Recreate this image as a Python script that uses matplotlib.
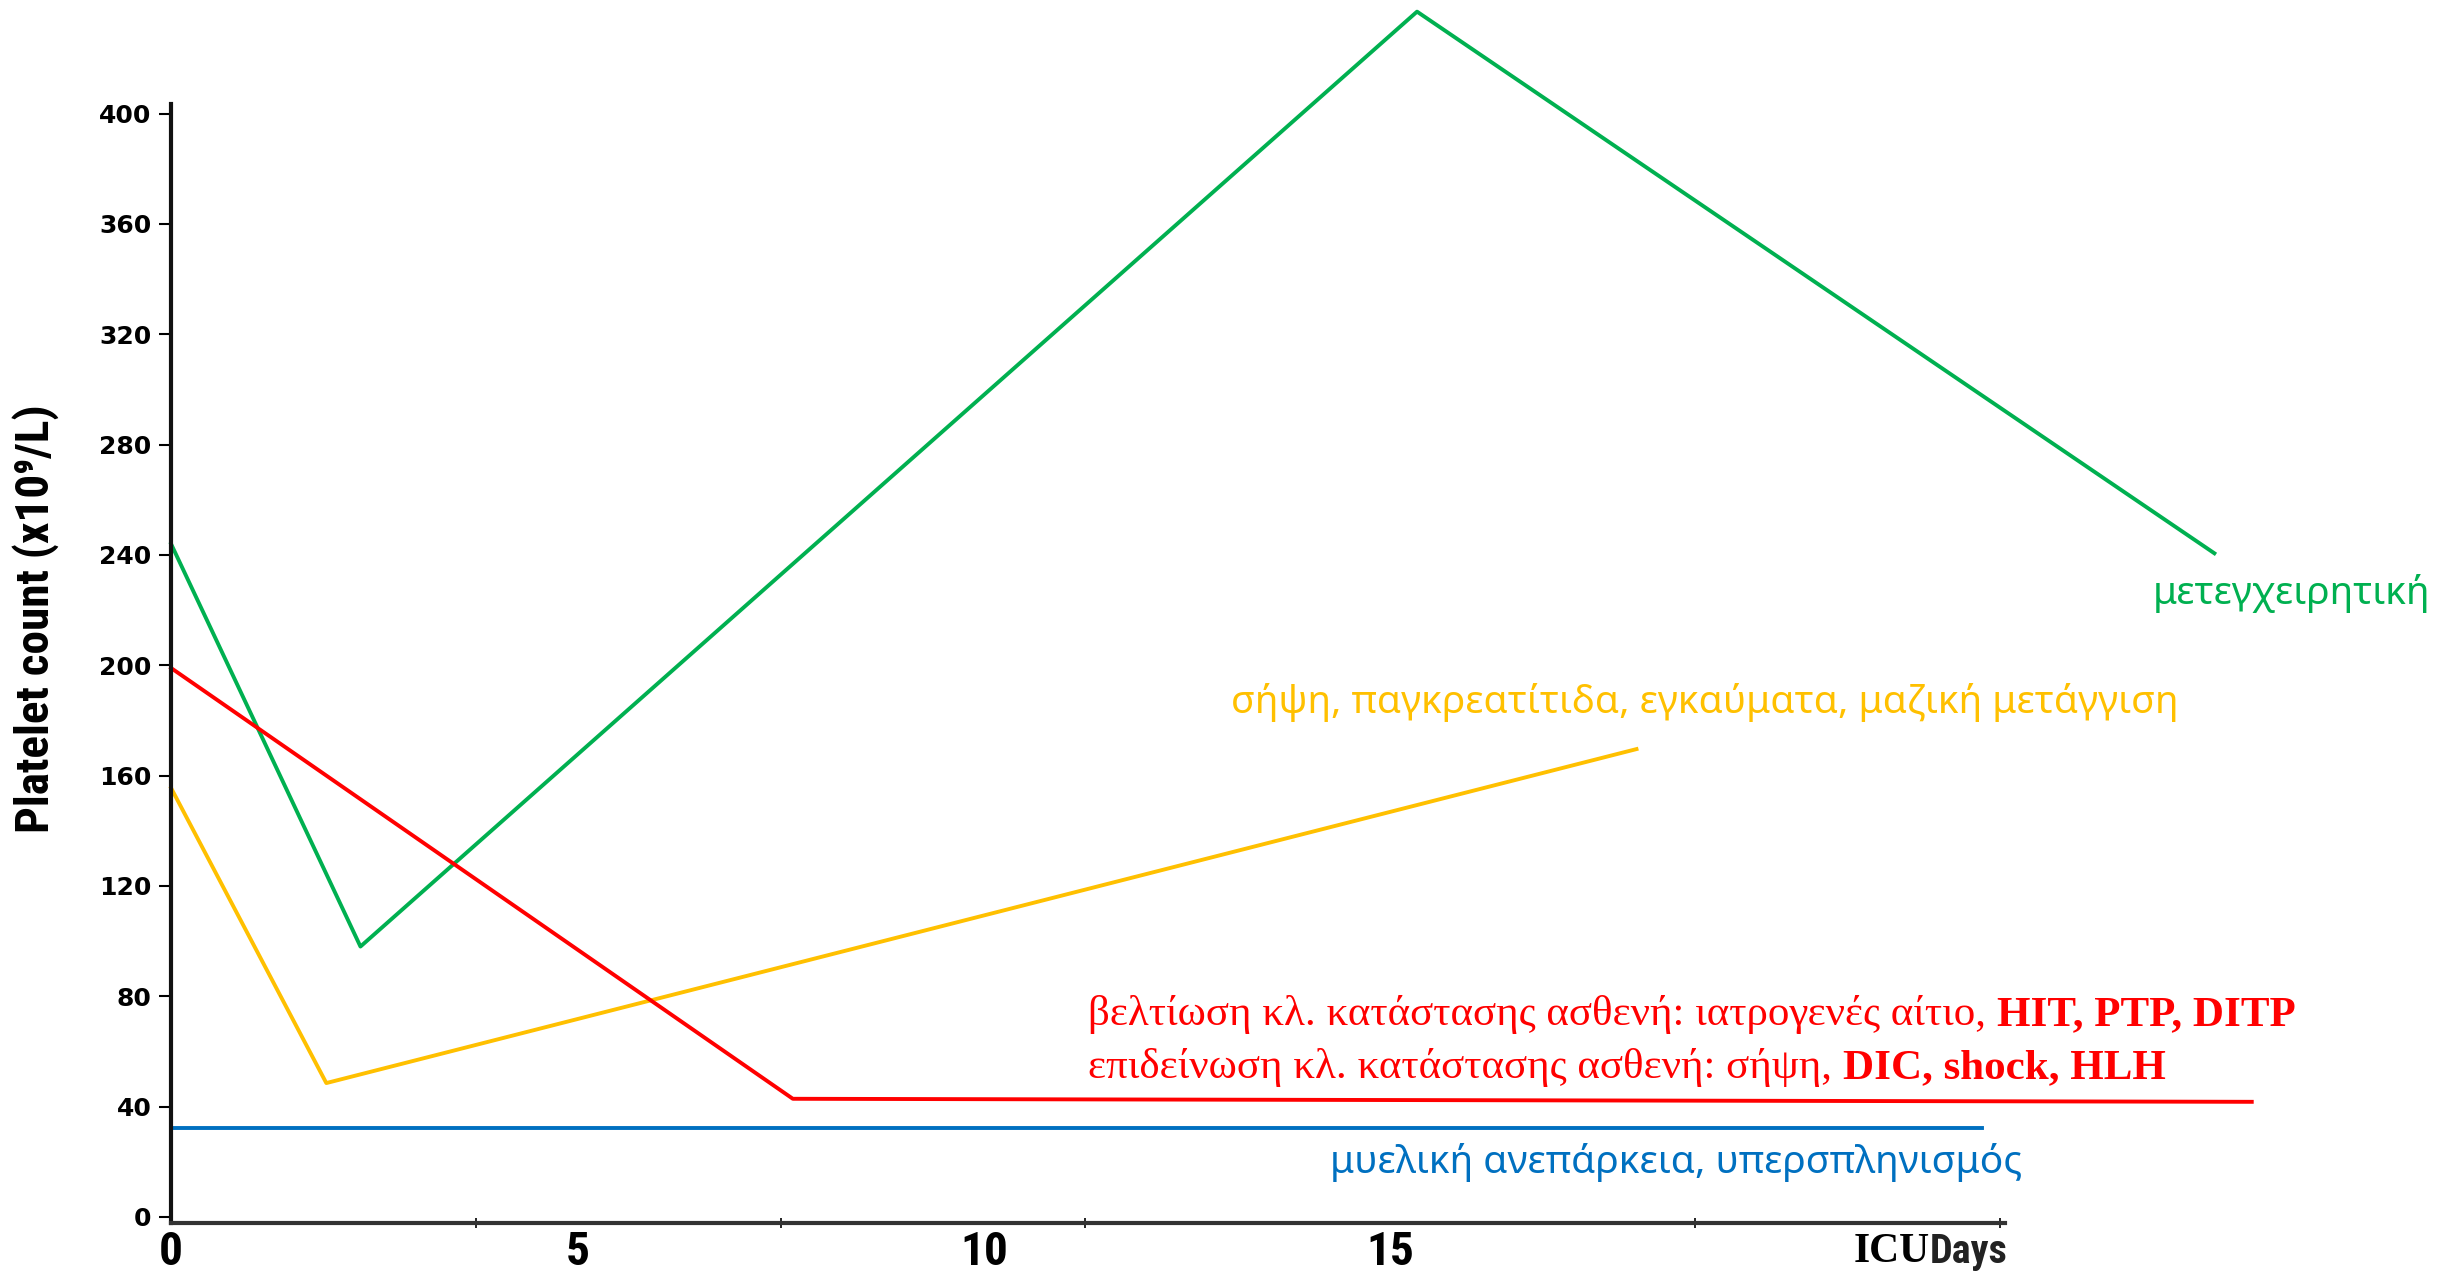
import matplotlib.pyplot as plt

# Platelet count trajectories (x10^9/L) over ICU days
days_postop = [0, 2.33, 15.33, 25.14]
plt_postop = [244, 98, 437, 240.6]

days_sepsis = [0, 1.91, 18.03]
plt_sepsis = [155.5, 48.5, 169.6]

days_iatro = [0, 7.65, 25.6]
plt_iatro = [199, 42.8, 41.7]

days_marrow = [0, 22.28]
plt_marrow = [32.1, 32.1]

y_ticks = [0, 40, 80, 120, 160, 200, 240, 280, 320, 360, 400]
x_ticks = [0, 5, 10, 15]

GREEN = '#00B050'
YELLOW = '#FFC000'
RED = '#FF0000'
BLUE = '#0070C0'

fig = plt.figure(figsize=(24.37, 12.72), dpi=100)
ax = fig.add_axes([0.0702, 0.0385, 0.8226 - 0.0702, 0.918 - 0.0385])

lw = 2.8
ax.plot(days_postop, plt_postop, color=GREEN, lw=lw, clip_on=False)
ax.plot(days_sepsis, plt_sepsis, color=YELLOW, lw=lw, clip_on=False)
ax.plot(days_iatro, plt_iatro, color=RED, lw=lw, clip_on=False)
ax.plot(days_marrow, plt_marrow, color=BLUE, lw=lw, clip_on=False)

ax.set_xlim(0, 22.56)
ax.set_ylim(-2.25, 403.4)

for s in ['top', 'right']:
    ax.spines[s].set_visible(False)
ax.spines['left'].set_linewidth(3)
ax.spines['left'].set_color('#111111')
ax.spines['bottom'].set_linewidth(3)
ax.spines['bottom'].set_color('#333333')

narrow = ['Roboto Condensed', 'Roboto', 'DejaVu Sans']

ax.set_yticks(y_ticks)
ax.set_yticklabels([str(v) for v in y_ticks], fontsize=18, fontweight='heavy',
                   family='DejaVu Sans')
ax.tick_params(axis='y', length=9, width=1.5, pad=5)

ax.set_xticks(x_ticks)
ax.set_xticklabels([str(v) for v in x_ticks], fontsize=34, fontweight='bold',
                   family=narrow)
ax.tick_params(axis='x', which='major', length=0, pad=5)
ax.set_xticks([3.75 * i for i in range(1, 7)], minor=True)
ax.tick_params(axis='x', which='minor', length=7, width=1.2, direction='inout')

ax.set_ylabel('Platelet count (x10⁹/L)', fontsize=34, fontweight='bold',
              family=narrow)
ax.yaxis.set_label_coords(-0.0610, 0.54)


def multi_text(x, y, parts, **kw):
    t = ax.text(x, y, parts[0][0], va='center', ha='left', **parts[0][1], **kw)
    for s, style in parts[1:]:
        t = ax.annotate(s, xycoords=t, xy=(1, 0), va='bottom', ha='left',
                        **style, **kw)
    return t


ax.text(24.38, 226, 'μετεγχειρητική', color=GREEN, fontsize=28,
        family='Noto Sans', va='center', ha='left')
ax.text(13.04, 186.5, 'σήψη, παγκρεατίτιδα, εγκαύματα, μαζική μετάγγιση',
        color=YELLOW, fontsize=28, family='Noto Sans', va='center', ha='left')
ax.text(14.26, 19.7, 'μυελική ανεπάρκεια, υπερσπληνισμός', color=BLUE,
        fontsize=28, family='Noto Sans', va='center', ha='left')

serif = dict(family='Liberation Serif', fontsize=31)
serif_b = dict(family='Liberation Serif', fontsize=31, fontweight='bold')
multi_text(11.28, 73.2, [('βελτίωση κλ. κατάστασης ασθενή: ιατρογενές αίτιο, ', serif),
                         ('HIT, PTP, DITP', serif_b)], color=RED)
multi_text(11.28, 54.1, [('επιδείνωση κλ. κατάστασης ασθενή: σήψη, ', serif),
                         ('DIC, shock, HLH', serif_b)], color=RED)

# axis title at the end of the x axis
t = ax.text(20.7, -6, 'ICU', family='Liberation Serif', fontsize=30,
            fontweight='bold', va='top', ha='left')
ax.annotate('Days', xycoords=t, xy=(1, 0), va='bottom', ha='left',
            family=narrow, fontsize=29, fontweight='bold', color='#222222')

fig.savefig('out.png', dpi=100)
